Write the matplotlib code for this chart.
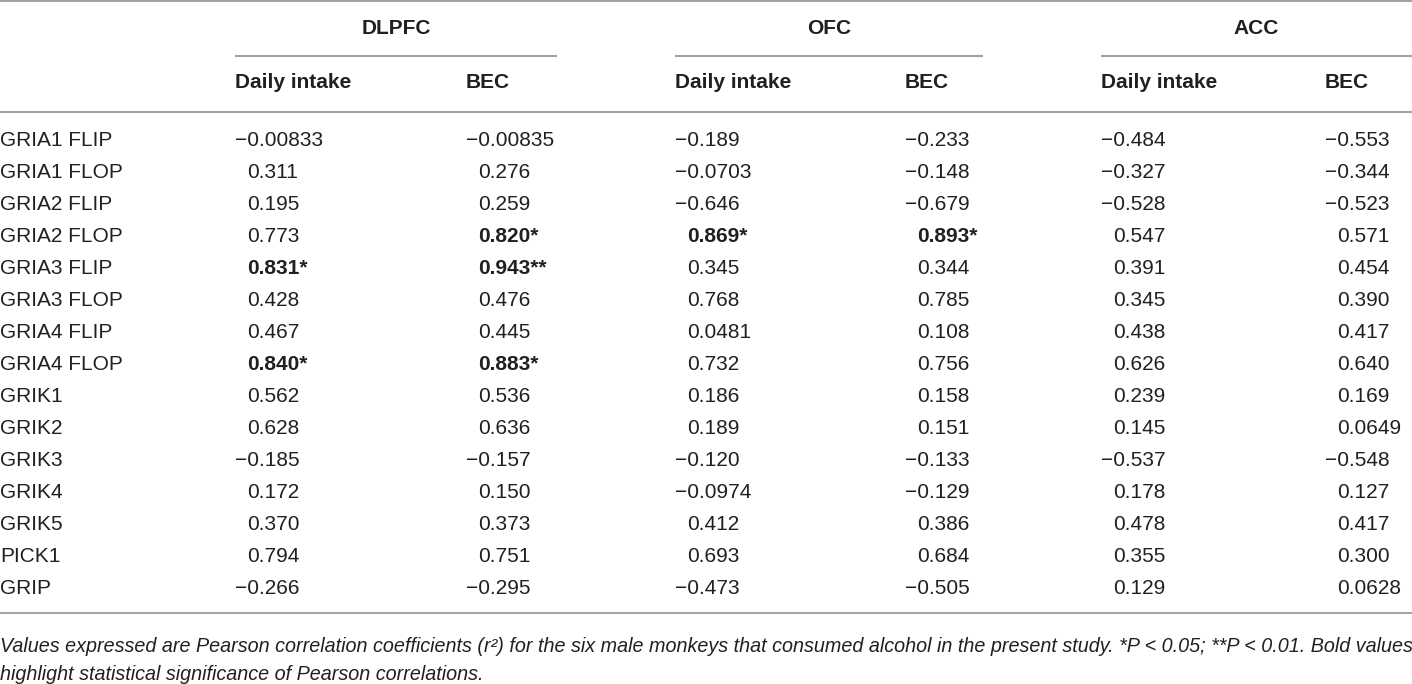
import matplotlib
matplotlib.use("Agg")
import matplotlib.pyplot as plt

# ── Table content ─────────────────────────────────────────────
REGIONS = ["DLPFC", "OFC", "ACC"]
SUBCOLS = ["Daily intake", "BEC"]
GENES = ["GRIA1 FLIP", "GRIA1 FLOP", "GRIA2 FLIP", "GRIA2 FLOP", "GRIA3 FLIP",
         "GRIA3 FLOP", "GRIA4 FLIP", "GRIA4 FLOP", "GRIK1", "GRIK2", "GRIK3",
         "GRIK4", "GRIK5", "PICK1", "GRIP"]

dlpfc_intake = ["-0.00833", "0.311", "0.195", "0.773", "0.831*", "0.428", "0.467",
                "0.840*", "0.562", "0.628", "-0.185", "0.172", "0.370", "0.794", "-0.266"]
dlpfc_bec = ["-0.00835", "0.276", "0.259", "0.820*", "0.943**", "0.476", "0.445",
             "0.883*", "0.536", "0.636", "-0.157", "0.150", "0.373", "0.751", "-0.295"]
ofc_intake = ["-0.189", "-0.0703", "-0.646", "0.869*", "0.345", "0.768", "0.0481",
              "0.732", "0.186", "0.189", "-0.120", "-0.0974", "0.412", "0.693", "-0.473"]
ofc_bec = ["-0.233", "-0.148", "-0.679", "0.893*", "0.344", "0.785", "0.108",
           "0.756", "0.158", "0.151", "-0.133", "-0.129", "0.386", "0.684", "-0.505"]
acc_intake = ["-0.484", "-0.327", "-0.528", "0.547", "0.391", "0.345", "0.438",
              "0.626", "0.239", "0.145", "-0.537", "0.178", "0.478", "0.355", "0.129"]
acc_bec = ["-0.553", "-0.344", "-0.523", "0.571", "0.454", "0.390", "0.417",
           "0.640", "0.169", "0.0649", "-0.548", "0.127", "0.417", "0.300", "0.0628"]

FOOTNOTE = ["Values expressed are Pearson correlation coefficients (r\u00b2) for the six male monkeys "
            "that consumed alcohol in the present study. *P < 0.05; **P < 0.01. Bold values",
            "highlight statistical significance of Pearson correlations."]

# ── Layout (pixel coordinates) ────────────────────────────────
W, H = 1412, 684
TEXT = "#231f20"
RULE = "#a3a3a3"
COL_X = [235, 466, 675, 905, 1101, 1325]
SPAN = [(235, 557), (675, 983), (1101, 1412)]
ROW0, ROW_STEP = 138, 32
MINUS_W = 12
FS = 15

plt.rcParams["font.family"] = ["Liberation Sans", "DejaVu Sans"]

fig = plt.figure(figsize=(W / 100, H / 100), dpi=100)
ax = fig.add_axes([0, 0, 1, 1])
ax.set_xlim(0, W)
ax.set_ylim(H, 0)
ax.axis("off")

# horizontal rules
for y in (1, 112, 613):
    ax.plot([0, W], [y, y], color=RULE, lw=1.5, solid_capstyle="butt")
for (x0, x1) in SPAN:
    ax.plot([x0, x1], [56, 56], color=RULE, lw=1.5, solid_capstyle="butt")

# headers
for name, (x0, x1) in zip(REGIONS, SPAN):
    ax.text((x0 + x1) / 2, 27, name, ha="center", va="center_baseline",
            fontsize=FS, fontweight="bold", color=TEXT)
for i, x in enumerate(COL_X):
    ax.text(x, 81, SUBCOLS[i % 2], ha="left", va="center_baseline",
            fontsize=FS, fontweight="bold", color=TEXT)

# body
columns = [dlpfc_intake, dlpfc_bec, ofc_intake, ofc_bec, acc_intake, acc_bec]
for r, gene in enumerate(GENES):
    y = ROW0 + r * ROW_STEP
    ax.text(0, y, gene, ha="left", va="center_baseline", fontsize=FS, color=TEXT)
    for x, col in zip(COL_X, columns):
        val = col[r]
        bold = "*" in val
        if val.startswith("-"):
            label, xx = "\u2212" + val[1:], x
        else:
            label, xx = val, x + MINUS_W
        ax.text(xx, y, label, ha="left", va="center_baseline", fontsize=FS,
                fontweight="bold" if bold else "normal", color=TEXT)

# footnote, sized so the first line spans the full width
foot = [ax.text(0, 645 + i * 28, line, ha="left", va="center_baseline", fontsize=12,
                style="italic", color=TEXT)
        for i, line in enumerate(FOOTNOTE)]
fig.canvas.draw()
w0 = foot[0].get_window_extent(fig.canvas.get_renderer()).width
for t in foot:
    t.set_fontsize(12 * (W - 4) / w0)

fig.savefig("out.png", dpi=100)
